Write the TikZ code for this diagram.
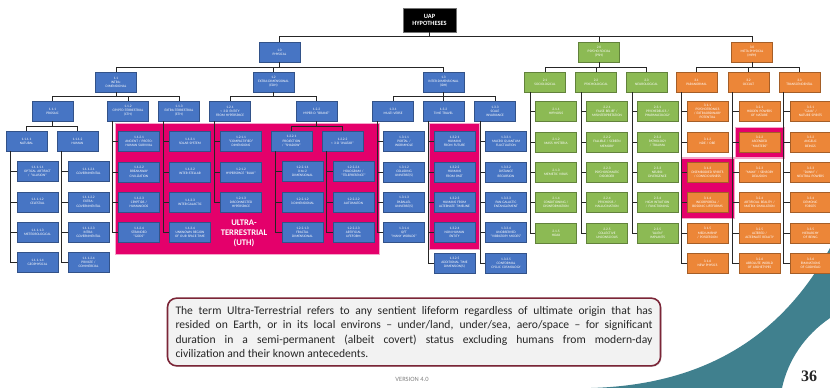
\documentclass[tikz,border=0pt]{standalone}
\usepackage{fontspec}
\setmainfont{Carlito}
\newfontfamily\pagefont{Liberation Serif}
\usepackage{tikz}
\usetikzlibrary{positioning,backgrounds,shadows}
\definecolor{uapblue}{HTML}{4775C4}
\definecolor{uapgreen}{HTML}{8CBA54}
\definecolor{uaporange}{HTML}{EC8638}
\definecolor{uthpink}{HTML}{E4006B}
\definecolor{maroon}{HTML}{7B2537}
\definecolor{notefill}{HTML}{F2F2F2}
\definecolor{slate}{HTML}{40808E}
\definecolor{bk50}{HTML}{808080}
\tikzset{
  hypbox/.style={
    rectangle, draw=#1!70!black, fill=#1, line width=0.4pt,
    text width=39pt, minimum height=20pt, inner sep=1pt,
    font=\fontsize{3.5}{4.1}\selectfont, text=white, align=center,
    drop shadow={shadow xshift=0.7pt, shadow yshift=-0.7pt, opacity=0.4}
  },
  hypbox/.default=uapblue,
  topbox/.style={
    rectangle, draw=black!55, fill=black, line width=0.8pt,
    minimum width=53pt, minimum height=24pt, inner sep=1pt,
    font=\fontsize{6.4}{7.4}\selectfont\bfseries, text=white, align=center,
    drop shadow={shadow xshift=0.8pt, shadow yshift=-0.8pt, opacity=0.4}
  },
  treeline/.style={draw=black!85, line width=0.45pt},
  branch/.style={to path={|- ([yshift=#1]\tikztotarget.north) -- (\tikztotarget.north)}},
  branch/.default=5pt,
  stub/.style={to path={|- (\tikztotarget.west)}},
  uthzone/.style={fill=uthpink, draw=uthpink!35, line width=1.2pt},
  uthlabel/.style={
    font=\fontsize{8.6}{10}\selectfont\bfseries, text=white, align=center
  },
  notebox/.style={
    rectangle, rounded corners=9pt, draw=maroon, line width=1.6pt,
    fill=notefill, text width=477pt, inner sep=8pt, align=justify,
    font=\fontsize{11.6}{14.5}\selectfont, text=black!85,
    drop shadow={shadow xshift=1pt, shadow yshift=-1pt, opacity=0.3}
  },
}

\begin{document}
\begin{tikzpicture}[x=1pt, y=-1pt]
  \useasboundingbox (0,0) rectangle (830,388);

  % root and the three families
  \node[topbox] (uap) at (429.5,20) {UAP\\HYPOTHESES};
  \node[hypbox] (p1) at (279.5,52) {1.0\\PHYSICAL};
  \node[hypbox=uapgreen] (p2) at (599,52) {2.0\\PSYCHO-SOCIAL\\(PSH)};
  \node[hypbox=uaporange] (p3) at (752,52) {3.0\\META-PHYSICAL\\(MPH)};

  % second tier
  \node[hypbox] (p11) at (116,82) {1.1\\INTRA-\\DIMENSIONAL};
  \node[hypbox] (p12) at (273.5,82) {1.2\\EXTRA-DIMENSIONAL\\(EDH)};
  \node[hypbox] (p13) at (443.5,82) {1.3\\INTER-DIMENSIONAL\\(IDH)};
  \node[hypbox=uapgreen] (p21) at (545,82) {2.1\\SOCIOLOGICAL};
  \node[hypbox=uapgreen] (p22) at (596,82) {2.2\\PSYCHOLOGICAL};
  \node[hypbox=uapgreen] (p23) at (646.5,82) {2.3\\NEUROLOGICAL};
  \node[hypbox=uaporange] (p31) at (696.5,82) {3.1\\PARANORMAL};
  \node[hypbox=uaporange] (p32) at (748.5,82) {3.2\\OCCULT};
  \node[hypbox=uaporange] (p33) at (799.5,82) {3.3\\TRANSCENDENTAL};

  % third tier (physical)
  \node[hypbox] (p111) at (52.5,111) {1.1.1\\PROSAIC};
  \node[hypbox] (p112) at (128,111) {1.1.2\\CRYPTO-TERRESTRIAL\\(CTH)};
  \node[hypbox] (p113) at (179,111) {1.1.3\\EXTRA-TERRESTRIAL\\(ETH)};
  \node[hypbox] (p121) at (230,111) {1.2.1\\< 3-D ENTITY\\FROM HYPERSPACE};
  \node[hypbox] (p122) at (316.5,111) {1.2.2\\HYPER-D ``BRANE''};
  \node[hypbox] (p131) at (393,111) {1.3.1\\MULTI-VERSE};
  \node[hypbox] (p132) at (443.5,111) {1.3.2\\TIME TRAVEL};
  \node[hypbox] (p133) at (495,111) {1.3.3\\SCALE\\INVARIANCE};
  \node[hypbox] (p1111) at (26.5,141) {1.1.1.1\\NATURAL};
  \node[hypbox] (p1112) at (77.5,141) {1.1.1.2\\HUMAN};
  \node[hypbox] (p1221) at (291.5,141) {1.2.2.1\\PROJECTION\\/ ``SHADOW''};
  \node[hypbox] (p1222) at (342.5,141) {1.2.2.2\\< 3-D ``AVATAR''};

  % natural
  \node[hypbox, below right=10pt and 11pt of p1111.south west] (n11111) {1.1.1.1.1\\OPTICAL ARTIFACT\\/ ``ILLUSION''};
  \node[hypbox, below=10pt of n11111] (n11112) {1.1.1.1.2\\CELESTIAL};
  \node[hypbox, below=10pt of n11112] (n11113) {1.1.1.1.3\\METEOROLOGICAL};
  \node[hypbox, below=10pt of n11113] (n11114) {1.1.1.1.4\\GEOPHYSICAL};
  % human
  \node[hypbox, below right=10pt and 11pt of p1112.south west] (n11121) {1.1.1.2.1\\GOVERNMENTAL};
  \node[hypbox, below=10pt of n11121] (n11122) {1.1.1.2.2\\EXTRA-\\GOVERNMENTAL};
  \node[hypbox, below=10pt of n11122] (n11123) {1.1.1.2.3\\INTRA-\\GOVERNMENTAL};
  \node[hypbox, below=10pt of n11123] (n11124) {1.1.1.2.4\\PRIVATE /\\COMMERCIAL};
  % crypto-terrestrial
  \node[hypbox, below right=10pt and 11pt of p112.south west] (n1121) {1.1.2.1\\ANCIENT / PROTO-\\HUMAN SURVIVAL};
  \node[hypbox, below=10pt of n1121] (n1122) {1.1.2.2\\BREAKAWAY\\CIVILIZATION};
  \node[hypbox, below=10pt of n1122] (n1123) {1.1.2.3\\CRYPTIDS /\\HUMANOIDS};
  \node[hypbox, below=10pt of n1123] (n1124) {1.1.2.4\\STRANDED\\``GODS''};
  % extra-terrestrial
  \node[hypbox, below right=10pt and 11pt of p113.south west] (n1131) {1.1.3.1\\SOLAR SYSTEM};
  \node[hypbox, below=10pt of n1131] (n1132) {1.1.3.2\\INTER-STELLAR};
  \node[hypbox, below=10pt of n1132] (n1133) {1.1.3.3\\INTER-GALACTIC};
  \node[hypbox, below=10pt of n1133] (n1134) {1.1.3.4\\UNKNOWN REGION\\OF OUR SPACE-TIME};
  % hyperspace
  \node[hypbox, below right=10pt and 11pt of p121.south west] (n1211) {1.2.1.1\\``COMPACTIFIED''\\DIMENSIONS};
  \node[hypbox, below=10pt of n1211] (n1212) {1.2.1.2\\HYPERSPACE ``BULK''};
  \node[hypbox, below=10pt of n1212] (n1213) {1.2.1.3\\DISCONNECTED\\HYPERSPACE};
  % projection
  \node[hypbox, below right=10pt and 11pt of p1221.south west] (n12211) {1.2.2.1.1\\0-to-2\\DIMENSIONAL};
  \node[hypbox, below=10pt of n12211] (n12212) {1.2.2.1.2\\3-DIMENSIONAL};
  \node[hypbox, below=10pt of n12212] (n12213) {1.2.2.1.3\\FRACTAL\\DIMENSIONAL};
  % avatar
  \node[hypbox, below right=10pt and 11pt of p1222.south west] (n12221) {1.2.2.2.1\\HOLOGRAM /\\``TELEPRESENCE''};
  \node[hypbox, below=10pt of n12221] (n12222) {1.2.2.2.2\\AUTOMATON};
  \node[hypbox, below=10pt of n12222] (n12223) {1.2.2.2.3\\ARTIFICIAL\\LIFEFORM};
  % multi-verse
  \node[hypbox, below right=10pt and 11pt of p131.south west] (n1311) {1.3.1.1\\PORTAL /\\WORMHOLE};
  \node[hypbox, below=10pt of n1311] (n1312) {1.3.1.2\\COLLIDING\\UNIVERSE(S)};
  \node[hypbox, below=10pt of n1312] (n1313) {1.3.1.3\\PARALLEL\\UNIVERSE(S)};
  \node[hypbox, below=10pt of n1313] (n1314) {1.3.1.4\\QFT\\``MANY WORLDS''};
  % time travel
  \node[hypbox, below right=10pt and 11pt of p132.south west] (n1321) {1.3.2.1\\HUMANS\\FROM FUTURE};
  \node[hypbox, below=10pt of n1321] (n1322) {1.3.2.2\\HUMANS\\FROM PAST};
  \node[hypbox, below=10pt of n1322] (n1323) {1.3.2.3\\HUMANS FROM\\ALTERNATE TIMELINE};
  \node[hypbox, below=10pt of n1323] (n1324) {1.3.2.4\\NON-HUMAN\\ENTITY};
  \node[hypbox, below=10pt of n1324] (n1325) {1.3.2.5\\ADDITIONAL TIME\\DIMENSION(S)};
  % scale invariance
  \node[hypbox, below right=10pt and 11pt of p133.south west] (n1331) {1.3.3.1\\MACRO QUANTUM\\FLUCTUATION};
  \node[hypbox, below=10pt of n1331] (n1332) {1.3.3.2\\DISTANCE\\RECURSION};
  \node[hypbox, below=10pt of n1332] (n1333) {1.3.3.3\\PAN-GALACTIC\\ENTANGLEMENT};
  \node[hypbox, below=10pt of n1333] (n1334) {1.3.3.4\\UNOBSERVED\\``VIBRATORY MODES''};
  \node[hypbox, below=10pt of n1334] (n1335) {1.3.3.5\\CONFORMAL\\CYCLIC COSMOLOGY};

  % sociological
  \node[hypbox=uapgreen, below right=9pt and 11pt of p21.south west] (n211) {2.1.1\\HYPNOSIS};
  \node[hypbox=uapgreen, below=10pt of n211] (n212) {2.1.2\\MASS HYSTERIA};
  \node[hypbox=uapgreen, below=10pt of n212] (n213) {2.1.3\\MEMETIC VIRUS};
  \node[hypbox=uapgreen, below=10pt of n213] (n214) {2.1.4\\CONDITIONING /\\DISINFORMATION};
  \node[hypbox=uapgreen, below=10pt of n214] (n215) {2.1.5\\HOAX};
  % psychological
  \node[hypbox=uapgreen, below right=9pt and 11pt of p22.south west] (n221) {2.2.1\\FALSE BELIEF /\\MISINTERPRETATION};
  \node[hypbox=uapgreen, below=10pt of n221] (n222) {2.2.2\\FALLIBLE / SCREEN\\MEMORY};
  \node[hypbox=uapgreen, below=10pt of n222] (n223) {2.2.3\\PSYCHOSOMATIC\\DISORDER};
  \node[hypbox=uapgreen, below=10pt of n223] (n224) {2.2.4\\PSYCHOSIS /\\HALLUCINATION};
  \node[hypbox=uapgreen, below=10pt of n224] (n225) {2.2.5\\COLLECTIVE\\UNCONSCIOUS};
  % neurological
  \node[hypbox=uapgreen, below right=9pt and 11pt of p23.south west] (n231) {2.3.1\\PSYCHEDELICS /\\PHARMACOLOGY};
  \node[hypbox=uapgreen, below=10pt of n231] (n232) {2.3.2\\PATHOLOGY\\/ TRAUMA};
  \node[hypbox=uapgreen, below=10pt of n232] (n233) {2.3.3\\NEURO-\\DIVERGENCE};
  \node[hypbox=uapgreen, below=10pt of n233] (n234) {2.3.4\\HIGH INTUITION\\/ FUNCTIONING};
  \node[hypbox=uapgreen, below=10pt of n234] (n235) {2.3.5\\``ALIEN''\\IMPLANTS};

  % paranormal
  \node[hypbox=uaporange, below right=9pt and 11pt of p31.south west] (n311) {3.1.1\\PSYCHOTRONICS\\/ EXTRAORDINARY\\POTENTIAL};
  \node[hypbox=uaporange, below=10pt of n311] (n312) {3.1.2\\NDE / OBE};
  \node[hypbox=uaporange, below=10pt of n312] (n313) {3.1.3\\DISEMBODIED SPIRITS\\/ CONSCIOUSNESS};
  \node[hypbox=uaporange, below=10pt of n313] (n314) {3.1.4\\INCORPOREAL /\\BOSONIC LIFEFORMS};
  \node[hypbox=uaporange, below=10pt of n314] (n315) {3.1.5\\MEDIUMSHIP\\/ POSSESSION};
  \node[hypbox=uaporange, below=10pt of n315] (n316) {3.1.6\\NEW PHYSICS};
  % occult
  \node[hypbox=uaporange, below right=9pt and 11pt of p32.south west] (n321) {3.2.1\\HIDDEN POWERS\\OF NATURE};
  \node[hypbox=uaporange, below=10pt of n321] (n322) {3.2.2\\ASCENDED\\``MASTERS''};
  \node[hypbox=uaporange, below=10pt of n322] (n323) {3.2.3\\``MAYA'' / SENSORY\\DELUSION};
  \node[hypbox=uaporange, below=10pt of n323] (n324) {3.2.4\\ARTIFICIAL REALITY /\\MATRIX SIMULATION};
  \node[hypbox=uaporange, below=10pt of n324] (n325) {3.2.5\\ALTERED /\\ALTERNATE REALITY};
  \node[hypbox=uaporange, below=10pt of n325] (n326) {3.2.6\\ABSOLUTE WORLD\\OF ARCHETYPES};
  % transcendental
  \node[hypbox=uaporange, below right=9pt and 11pt of p33.south west] (n331) {3.3.1\\``GAIA'' /\\NATURE SPIRITS};
  \node[hypbox=uaporange, below=10pt of n331] (n332) {3.3.2\\ANGELIC\\BEINGS};
  \node[hypbox=uaporange, below=10pt of n332] (n333) {3.3.3\\``DJINN'' /\\NEUTRAL POWERS};
  \node[hypbox=uaporange, below=10pt of n333] (n334) {3.3.4\\DEMONIC\\FORCES};
  \node[hypbox=uaporange, below=10pt of n334] (n335) {3.3.5\\HIERARCHY\\OF BEING};
  \node[hypbox=uaporange, below=10pt of n335] (n336) {3.3.6\\EMANATIONS\\OF GODHEAD};

  % tree lines
  \draw[treeline] (uap.south) edge[branch=6pt] (p1) edge[branch=6pt] (p2) edge[branch=6pt] (p3);
  \draw[treeline] (p1.south) edge[branch] (p11) edge[branch] (p12) edge[branch] (p13);
  \draw[treeline] (p2.south) edge[branch] (p21) edge[branch] (p22) edge[branch] (p23);
  \draw[treeline] (p3.south) edge[branch] (p31) edge[branch] (p32) edge[branch] (p33);
  \draw[treeline] (p11.south) edge[branch=4.5pt] (p111) edge[branch=4.5pt] (p112) edge[branch=4.5pt] (p113);
  \draw[treeline] (p12.south) edge[branch=4.5pt] (p121) edge[branch=4.5pt] (p122);
  \draw[treeline] (p13.south) edge[branch=4.5pt] (p131) edge[branch=4.5pt] (p132) edge[branch=4.5pt] (p133);
  \draw[treeline] (p111.south) edge[branch] (p1111) edge[branch] (p1112);
  \draw[treeline] (p122.south) edge[branch] (p1221) edge[branch] (p1222);
  \draw[treeline] ([xshift=4.5pt]p1111.south west) edge[stub] (n11111) edge[stub] (n11112) edge[stub] (n11113) edge[stub] (n11114);
  \draw[treeline] ([xshift=4.5pt]p1112.south west) edge[stub] (n11121) edge[stub] (n11122) edge[stub] (n11123) edge[stub] (n11124);
  \draw[treeline] ([xshift=5pt]p112.south west) edge[stub] (n1121) edge[stub] (n1122) edge[stub] (n1123) edge[stub] (n1124);
  \draw[treeline] ([xshift=5pt]p113.south west) edge[stub] (n1131) edge[stub] (n1132) edge[stub] (n1133) edge[stub] (n1134);
  \draw[treeline] ([xshift=5pt]p121.south west) edge[stub] (n1211) edge[stub] (n1212) edge[stub] (n1213);
  \draw[treeline] ([xshift=4.5pt]p1221.south west) edge[stub] (n12211) edge[stub] (n12212) edge[stub] (n12213);
  \draw[treeline] ([xshift=4.5pt]p1222.south west) edge[stub] (n12221) edge[stub] (n12222) edge[stub] (n12223);
  \draw[treeline] ([xshift=5pt]p131.south west) edge[stub] (n1311) edge[stub] (n1312) edge[stub] (n1313) edge[stub] (n1314);
  \draw[treeline] ([xshift=5pt]p132.south west) edge[stub] (n1321) edge[stub] (n1322) edge[stub] (n1323) edge[stub] (n1324) edge[stub] (n1325);
  \draw[treeline] ([xshift=6pt]p133.south west) edge[stub] (n1331) edge[stub] (n1332) edge[stub] (n1333) edge[stub] (n1334) edge[stub] (n1335);
  \draw[treeline] ([xshift=6pt]p21.south west) edge[stub] (n211) edge[stub] (n212) edge[stub] (n213) edge[stub] (n214) edge[stub] (n215);
  \draw[treeline] ([xshift=6pt]p22.south west) edge[stub] (n221) edge[stub] (n222) edge[stub] (n223) edge[stub] (n224) edge[stub] (n225);
  \draw[treeline] ([xshift=6pt]p23.south west) edge[stub] (n231) edge[stub] (n232) edge[stub] (n233) edge[stub] (n234) edge[stub] (n235);
  \draw[treeline] ([xshift=5pt]p31.south west) edge[stub] (n311) edge[stub] (n312) edge[stub] (n313) edge[stub] (n314) edge[stub] (n315) edge[stub] (n316);
  \draw[treeline] ([xshift=4pt]p32.south west) edge[stub] (n321) edge[stub] (n322) edge[stub] (n323) edge[stub] (n324) edge[stub] (n325) edge[stub] (n326);
  \draw[treeline] ([xshift=4pt]p33.south west) edge[stub] (n331) edge[stub] (n332) edge[stub] (n333) edge[stub] (n334) edge[stub] (n335) edge[stub] (n336);

  % ultra-terrestrial highlight
  \begin{scope}[on background layer]
    \fill[white] (0,0) rectangle (830,388);
    \fill[slate] (591,388) .. controls (700,385) and (780,340) .. (830,248)
      -- (830,318) .. controls (805,335) and (788,360) .. (782,388) -- cycle;
    \filldraw[uthzone] ([xshift=-3pt,yshift=8pt]n1121.north west) rectangle ([xshift=5pt,yshift=-12pt]n12223.south east);
    \filldraw[uthzone] ([xshift=-4pt,yshift=8pt]n1321.north west) rectangle ([xshift=4pt,yshift=-7pt]n1324.south east);
    \filldraw[uthzone] ([xshift=-5pt,yshift=4pt]n313.north west) rectangle ([xshift=6pt,yshift=-6pt]n314.south east);
    \filldraw[uthzone] ([xshift=-3pt,yshift=4pt]n322.north west) rectangle ([xshift=4pt,yshift=-6pt]n322.south east);
  \end{scope}
  \node[uthlabel] (uth) at (244,233) {ULTRA-\\TERRESTRIAL\\(UTH)};

  % definition and footer
  \node[notebox] (note) at (414,332) {The term Ultra-Terrestrial refers to any sentient lifeform regardless of ultimate origin that has\linebreak
    resided on Earth, or in its local environs -- under/land, under/sea, aero/space -- for significant\linebreak
    duration in a semi-permanent (albeit covert) status excluding humans from modern-day\linebreak
    civilization and their known antecedents.};
  \node[font=\fontsize{6.5}{7}\selectfont, text=bk50] (ver) at (412,379) {VERSION 4.0};
  \node[font=\pagefont\fontsize{16}{17}\selectfont\bfseries, text=black!85] (page) at (809,376) {36};
\end{tikzpicture}
\end{document}
